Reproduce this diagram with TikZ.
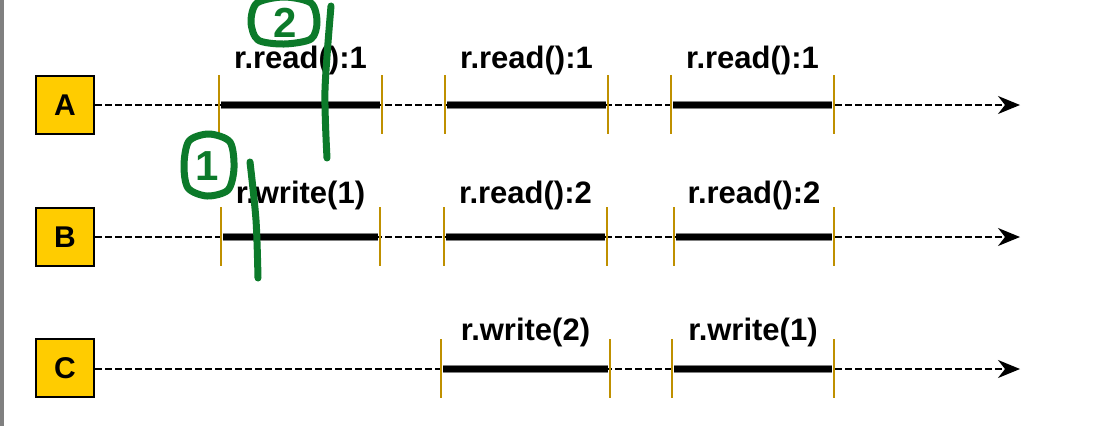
\documentclass[tikz,border=0pt]{standalone}
\usepackage{fontspec}
\setmainfont{Liberation Sans}
\usetikzlibrary{arrows.meta,calc}
\definecolor{boxyellow}{RGB}{255,204,0}
\definecolor{tickgold}{RGB}{191,144,0}
\definecolor{pengreen}{RGB}{12,122,42}
\definecolor{bargray}{RGB}{128,128,128}
\newcommand\opbar[6]{%
  \coordinate (#1-s) at (#2,#4);
  \coordinate (#1-e) at (#3,#4);
  \draw[segedge] ([xshift=2pt]#1-s) -- ([xshift=-2pt]#1-e);
  \draw[segcore] ([xshift=2pt]#1-s) -- ([xshift=-2pt]#1-e);
  \draw[tickline] ([yshift=30pt]#1-s) -- ([yshift=-29pt]#1-s);
  \draw[tickline] ([yshift=30pt]#1-e) -- ([yshift=-29pt]#1-e);
  \node[oplabel] (#1-l) at ($(#1-s)!0.5!(#1-e)+(0,-#6)$) {#5};
}
\begin{document}
\begin{tikzpicture}[x=1pt,y=-1pt,
  procbox/.style={draw=black, line width=2.2pt, fill=boxyellow, minimum size=58pt,
    inner sep=0pt, font=\fontsize{30}{30}\selectfont\bfseries},
  timeline/.style={line width=1.8pt, dash pattern=on 7pt off 3pt,
    -{Stealth[length=22pt,width=18pt,inset=7pt]}},
  segedge/.style={line width=8pt, bargray},
  segcore/.style={line width=5.5pt, black},
  tickline/.style={line width=1.7pt, tickgold},
  oplabel/.style={anchor=base, inner sep=0pt, font=\fontsize{31}{31}\selectfont\bfseries},
  pen/.style={pengreen, line width=7pt, line cap=round, line join=round},
  pendigit/.style={pengreen, inner sep=0pt, font=\fontsize{42}{42}\selectfont\bfseries}]
\useasboundingbox (0,0) rectangle (1111,426);
\clip (0,0) rectangle (1111,426);
\fill[bargray] (0,0) rectangle (4,426);

\node[procbox] (A) at (65,105) {A};
\node[procbox] (B) at (65,237) {B};
\node[procbox] (C) at (65,368) {C};

\coordinate (Aend) at (1020,105);
\coordinate (Bend) at (1020,237);
\coordinate (Cend) at (1020,369);
\draw[timeline] (A.east) -- (Aend);
\draw[timeline] (B.east) -- (Bend);
\draw[timeline] (C.east|-Cend) -- (Cend);

\opbar{a1}{219}{382}{105}{r.read():1}{37}
\opbar{a2}{445}{608}{105}{r.read():1}{37}
\opbar{a3}{671}{834}{105}{r.read():1}{37}
\opbar{b1}{221}{380}{237}{r.write(1)}{34}
\opbar{b2}{444}{607}{237}{r.read():2}{34}
\opbar{b3}{674}{834}{237}{r.read():2}{34}
\opbar{c1}{441}{610}{369}{r.write(2)}{29}
\opbar{c2}{672}{834}{369}{r.write(1)}{29}

% green hand annotations
\draw[pen] plot[smooth cycle] coordinates {(251,22) (257,3) (284,-3) (311,3) (317,22) (311,39) (284,44) (258,40)};
\node[pendigit] (two) at (285,23) {2};
\draw[pen] plot[smooth] coordinates {(331,6) (325,90) (327,158)};
\draw[pen] plot[smooth cycle] coordinates {(184,165) (189,141) (209,134) (230,142) (234,168) (228,190) (207,196) (188,188)};
\node[pendigit] (one) at (207,166) {1};
\draw[pen] plot[smooth] coordinates {(250,162) (256,220) (258,278)};
\end{tikzpicture}
\end{document}
